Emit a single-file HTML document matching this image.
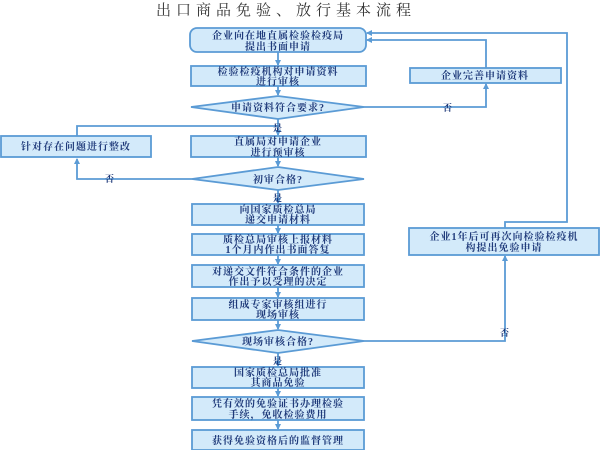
<!DOCTYPE html>
<html><head><meta charset="utf-8"><style>
html,body{margin:0;padding:0;background:#fff;width:600px;height:450px;overflow:hidden}
text{font-family:"Liberation Serif","Noto Serif CJK SC","Noto Sans CJK SC",serif;fill:#1f3a7a;font-size:10px;text-anchor:middle;font-weight:bold;letter-spacing:1px}
.b{fill:#d3eafa;stroke:#5b9bd5;stroke-width:1.8}
.l{stroke:#5b9bd5;stroke-width:1.8;fill:none}
</style></head><body>
<svg width="600" height="450" xmlns="http://www.w3.org/2000/svg">
<defs><marker id="a" markerWidth="6" markerHeight="6" refX="5" refY="3" orient="auto" markerUnits="userSpaceOnUse"><path d="M0,0L6,3L0,6z" fill="#5b9bd5"/></marker></defs>
<text x="286" y="15" style="font-size:15px;fill:#333;font-weight:normal;letter-spacing:5px">出口商品免验、放行基本流程</text>
<g class="l">
<line x1="278" y1="52" x2="278" y2="65" marker-end="url(#a)"/>
<line x1="278" y1="86" x2="278" y2="95" marker-end="url(#a)"/>
<line x1="278" y1="119" x2="278" y2="135" marker-end="url(#a)"/>
<line x1="278" y1="157" x2="278" y2="166" marker-end="url(#a)"/>
<line x1="278" y1="190" x2="278" y2="203" marker-end="url(#a)"/>
<line x1="278" y1="225" x2="278" y2="233" marker-end="url(#a)"/>
<line x1="278" y1="255" x2="278" y2="264" marker-end="url(#a)"/>
<line x1="278" y1="287" x2="278" y2="297" marker-end="url(#a)"/>
<line x1="278" y1="320" x2="278" y2="329" marker-end="url(#a)"/>
<line x1="278" y1="353" x2="278" y2="366" marker-end="url(#a)"/>
<line x1="278" y1="388" x2="278" y2="396" marker-end="url(#a)"/>
<line x1="278" y1="420" x2="278" y2="429" marker-end="url(#a)"/>
<polyline points="364,107 486,107 486,84" marker-end="url(#a)"/>
<polyline points="486,68 486,40 367,40" marker-end="url(#a)"/>
<polyline points="505,228 505,222 567,222 567,33 367,33" marker-end="url(#a)"/>
<polyline points="364,341 505,341 505,256" marker-end="url(#a)"/>
<polyline points="77,136 77,126 278,126"/>
<polyline points="192,179 77,179 77,159" marker-end="url(#a)"/>
</g>
<rect class="b" x="190" y="28" width="176" height="24" rx="7"/>
<text x="278" y="39">企业向在地直属检验检疫局</text><text x="278" y="50">提出书面申请</text>
<rect class="b" x="191" y="66" width="175" height="20"/>
<text x="278" y="75">检验检疫机构对申请资料</text><text x="278" y="85">进行审核</text>
<polygon class="b" points="191,107 278,96 364,107 278,119"/>
<text x="278" y="111">申请资料符合要求?</text>
<rect class="b" x="410" y="68" width="151" height="15"/>
<text x="485" y="79">企业完善申请资料</text>
<rect class="b" x="1" y="136" width="150" height="21"/>
<text x="76" y="150">针对存在问题进行整改</text>
<rect class="b" x="191" y="136" width="175" height="21"/>
<text x="278" y="145">直属局对申请企业</text><text x="278" y="156">进行预审核</text>
<polygon class="b" points="192,179 278,167 364,179 278,190"/>
<text x="278" y="183">初审合格?</text>
<rect class="b" x="192" y="204" width="172" height="21"/>
<text x="278" y="213">向国家质检总局</text><text x="278" y="223">递交申请材料</text>
<rect class="b" x="192" y="234" width="172" height="21"/>
<text x="278" y="243">质检总局审核上报材料</text><text x="278" y="253">1个月内作出书面答复</text>
<rect class="b" x="192" y="265" width="172" height="22"/>
<text x="278" y="275">对递交文件符合条件的企业</text><text x="278" y="285">作出予以受理的决定</text>
<rect class="b" x="192" y="298" width="172" height="22"/>
<text x="278" y="308">组成专家审核组进行</text><text x="278" y="318">现场审核</text>
<polygon class="b" points="192,341 278,330 364,341 278,353"/>
<text x="278" y="345">现场审核合格?</text>
<rect class="b" x="409" y="228" width="190" height="27"/>
<text x="504" y="240">企业1年后可再次向检验检疫机</text><text x="504" y="251">构提出免验申请</text>
<rect class="b" x="192" y="367" width="172" height="21"/>
<text x="278" y="376">国家质检总局批准</text><text x="278" y="386">其商品免验</text>
<rect class="b" x="192" y="397" width="172" height="23"/>
<text x="278" y="407">凭有效的免验证书办理检验</text><text x="278" y="418">手续，免收检验费用</text>
<rect class="b" x="192" y="430" width="172" height="20"/>
<text x="278" y="444">获得免验资格后的监督管理</text>
<text x="448" y="111" style="font-size:9px">否</text>
<text x="278" y="131" style="font-size:9px">是</text>
<text x="110" y="182" style="font-size:9px">否</text>
<text x="278" y="201" style="font-size:9px">是</text>
<text x="505" y="336" style="font-size:9px">否</text>
<text x="278" y="364" style="font-size:9px">是</text>
</svg>
</body></html>
